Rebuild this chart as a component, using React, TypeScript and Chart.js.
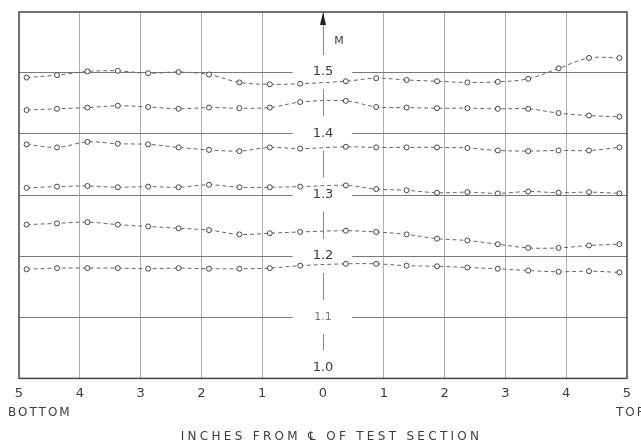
import React, { useEffect, useRef } from "react";
import { Chart, registerables } from "chart.js";

Chart.register(...registerables);

const xPositions = [-4.875, -4.375, -3.875, -3.375, -2.875, -2.375, -1.875, -1.375, -0.875, -0.375, 0.375, 0.875, 1.375, 1.875, 2.375, 2.875, 3.375, 3.875, 4.375, 4.875];

const seriesA = [1.491, 1.495, 1.501, 1.502, 1.498, 1.5, 1.496, 1.483, 1.48, 1.481, 1.485, 1.49, 1.487, 1.485, 1.483, 1.484, 1.489, 1.506, 1.523, 1.523];
const seriesB = [1.438, 1.44, 1.442, 1.445, 1.443, 1.44, 1.442, 1.441, 1.442, 1.451, 1.453, 1.443, 1.442, 1.441, 1.441, 1.44, 1.44, 1.433, 1.429, 1.427];
const seriesC = [1.382, 1.377, 1.386, 1.383, 1.382, 1.377, 1.373, 1.371, 1.377, 1.375, 1.378, 1.377, 1.377, 1.377, 1.376, 1.372, 1.371, 1.372, 1.372, 1.377];
const seriesD = [1.311, 1.313, 1.314, 1.312, 1.313, 1.312, 1.316, 1.312, 1.312, 1.313, 1.315, 1.309, 1.307, 1.303, 1.304, 1.302, 1.305, 1.303, 1.304, 1.302];
const seriesE = [1.251, 1.253, 1.255, 1.251, 1.248, 1.245, 1.242, 1.235, 1.237, 1.239, 1.241, 1.239, 1.235, 1.228, 1.225, 1.219, 1.213, 1.213, 1.217, 1.219];
const seriesF = [1.178, 1.18, 1.18, 1.18, 1.179, 1.18, 1.179, 1.179, 1.18, 1.184, 1.187, 1.187, 1.184, 1.183, 1.181, 1.179, 1.176, 1.174, 1.175, 1.173];

const yTickValues = [1.0, 1.1, 1.2, 1.3, 1.4, 1.5];
const yTickLabels = ["1.0", "1.1", "1.2", "1.3", "1.4", "1.5"];
const xTitle = "INCHES FROM \u2104 OF TEST SECTION";
const leftEndLabel = "BOTTOM";
const rightEndLabel = "TOP";
const yAxisName = "M";

const FONT = "'DejaVu Sans', sans-serif";
const INK = "#3c3c3c";
const GRID = "#b0b0b0";

const overlayPlugin = {
  id: "overlay",
  beforeDatasetsDraw(chart: any) {
    const { ctx, chartArea, scales } = chart;
    const xs = scales.x;
    const ys = scales.y;
    const cx = xs.getPixelForValue(0);
    const gapL = xs.getPixelForValue(-0.5);
    const gapR = xs.getPixelForValue(0.48);
    ctx.save();
    // horizontal grid lines with a gap at the centre
    ctx.strokeStyle = "#7a7a7a";
    ctx.lineWidth = 1;
    yTickValues.forEach((v) => {
      if (v === 1.0) return;
      const y = Math.round(ys.getPixelForValue(v)) + 0.5;
      ctx.beginPath();
      ctx.moveTo(chartArea.left, y);
      ctx.lineTo(gapL, y);
      ctx.moveTo(gapR, y);
      ctx.lineTo(chartArea.right, y);
      ctx.stroke();
    });
    // centre vertical line, broken around labels
    const labelYs = yTickValues.map((v) => (v === 1.0 ? ys.getPixelForValue(v) - 11 : ys.getPixelForValue(v)));
    const gaps = labelYs.map((y) => [y - 17, y + 17]).sort((a, b) => a[0] - b[0]);
    ctx.strokeStyle = "#8a8a8a";
    let start = chartArea.top;
    const vx = Math.round(cx) + 0.5;
    ctx.beginPath();
    gaps.forEach(([g0, g1]) => {
      if (g0 > start) {
        ctx.moveTo(vx, start);
        ctx.lineTo(vx, Math.min(g0, chartArea.bottom));
      }
      start = Math.max(start, g1);
    });
    if (start < chartArea.bottom) {
      ctx.moveTo(vx, start);
      ctx.lineTo(vx, chartArea.bottom);
    }
    ctx.stroke();
    // arrow head
    ctx.fillStyle = "#222";
    ctx.beginPath();
    ctx.moveTo(cx, chartArea.top);
    ctx.lineTo(cx - 3, chartArea.top + 13);
    ctx.lineTo(cx + 3, chartArea.top + 13);
    ctx.closePath();
    ctx.fill();
    // frame
    ctx.strokeStyle = "#444";
    ctx.lineWidth = 1.5;
    ctx.strokeRect(chartArea.left, chartArea.top, chartArea.right - chartArea.left, chartArea.bottom - chartArea.top);
    // y labels
    ctx.textAlign = "center";
    ctx.textBaseline = "middle";
    yTickValues.forEach((v, i) => {
      ctx.font = v === 1.1 ? `11px ${FONT}` : `13px ${FONT}`;
      ctx.fillStyle = v === 1.1 ? "#777" : INK;
      ctx.fillText(yTickLabels[i], cx, labelYs[i]);
    });
    ctx.font = `11px ${FONT}`;
    ctx.fillStyle = INK;
    ctx.fillText(yAxisName, cx + 16, chartArea.top + 29);
    // end labels & title
    ctx.font = `12px ${FONT}`;
    (ctx as any).letterSpacing = "2px";
    ctx.textAlign = "left";
    ctx.fillText(leftEndLabel, 8, 413);
    ctx.fillText(rightEndLabel, 616, 413);
    (ctx as any).letterSpacing = "3.3px";
    ctx.textAlign = "center";
    ctx.fillText(xTitle, xs.getPixelForValue(0.14), 437);
    ctx.restore();
  },
};

export default function App() {
  const ref = useRef<HTMLCanvasElement>(null);
  useEffect(() => {
    if (!ref.current) return;
    const all = [seriesA, seriesB, seriesC, seriesD, seriesE, seriesF];
    const chart = new Chart(ref.current, {
      type: "line",
      data: {
        datasets: all.map((s, i) => ({
          label: `M${i}`,
          data: s.map((y, j) => ({ x: xPositions[j], y })),
          borderColor: "#666",
          borderWidth: 1,
          borderDash: [4, 3],
          tension: 0.35,
          pointRadius: 2.5,
          pointBorderWidth: 1,
          pointBorderColor: "#444",
          pointBackgroundColor: "#fff",
          fill: false,
        })),
      },
      options: {
        responsive: false,
        animation: false,
        layout: { padding: { left: 19, right: 14, top: 12, bottom: 38 } },
        plugins: { legend: { display: false }, tooltip: { enabled: false } },
        scales: {
          x: {
            type: "linear",
            min: -5,
            max: 5,
            border: { display: false },
            grid: {
              drawTicks: false,
              color: (c: any) => (c.tick && (c.tick.value === 0 || Math.abs(c.tick.value) === 5) ? "transparent" : GRID),
              lineWidth: 1,
            },
            ticks: {
              stepSize: 1,
              padding: 7,
              color: INK,
              font: { family: FONT, size: 13 },
              callback: (v: any) => String(Math.abs(Number(v))),
              maxRotation: 0,
            },
          },
          y: {
            display: false,
            min: 1.0,
            max: 1.598,
          },
        },
      },
      plugins: [overlayPlugin],
    });
    return () => chart.destroy();
  }, []);
  return (
    <div style={{ position: "absolute", left: 0, top: 0, width: 641, height: 446, background: "#fff" }}>
      <canvas ref={ref} width={641} height={446} style={{ display: "block" }} />
    </div>
  );
}
